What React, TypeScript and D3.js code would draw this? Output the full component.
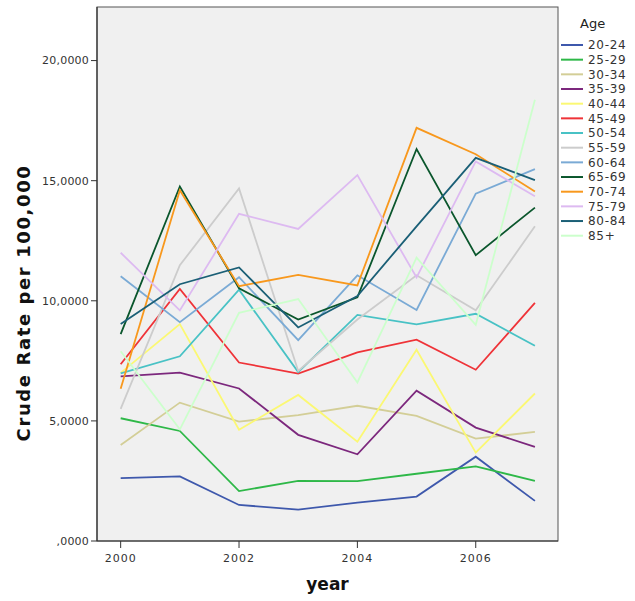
import React from "react";
import * as d3 from "d3";

const years = [2000, 2001, 2002, 2003, 2004, 2005, 2006, 2007];
const ageGroups = ["20-24", "25-29", "30-34", "35-39", "40-44", "45-49", "50-54", "55-59", "60-64", "65-69", "70-74", "75-79", "80-84", "85+"];
const colors = ["#3e58ac", "#2eb848", "#d3ce97", "#7c287d", "#fbf873", "#ef3338", "#48c2c5", "#cccccc", "#7aaad5", "#0a562c", "#f8981d", "#ddbaf1", "#1a5f76", "#ccffcc"];

const r20_24 = [2.62, 2.69, 1.5, 1.31, 1.6, 1.85, 3.51, 1.67];
const r25_29 = [5.11, 4.58, 2.08, 2.5, 2.49, 2.8, 3.11, 2.5];
const r30_34 = [4.0, 5.76, 4.97, 5.24, 5.63, 5.21, 4.26, 4.54];
const r35_39 = [6.85, 7.01, 6.35, 4.42, 3.61, 6.26, 4.72, 3.92];
const r40_44 = [7.0, 9.03, 4.63, 6.08, 4.13, 7.96, 3.68, 6.14];
const r45_49 = [7.36, 10.49, 7.43, 6.97, 7.85, 8.38, 7.13, 9.91];
const r50_54 = [6.98, 7.69, 10.46, 7.03, 9.41, 9.02, 9.46, 8.13];
const r55_59 = [5.5, 11.48, 14.68, 7.08, 9.22, 11.06, 9.6, 13.1];
const r60_64 = [11.02, 9.11, 10.98, 8.36, 11.06, 9.62, 14.46, 15.48];
const r65_69 = [8.61, 14.76, 10.52, 9.22, 10.14, 16.32, 11.9, 13.88];
const r70_74 = [6.34, 14.6, 10.61, 11.08, 10.64, 17.2, 16.1, 14.55];
const r75_79 = [12.0, 9.6, 13.62, 12.99, 15.23, 10.97, 15.8, 14.35];
const r80_84 = [9.03, 10.69, 11.39, 8.89, 10.2, 13.1, 15.95, 15.02];
const r85p = [7.9, 4.65, 9.5, 10.07, 6.6, 11.8, 9.0, 18.37];

const seriesValues = [r20_24, r25_29, r30_34, r35_39, r40_44, r45_49, r50_54, r55_59, r60_64, r65_69, r70_74, r75_79, r80_84, r85p];

const yTicks = [0, 5, 10, 15, 20];
const xTicks = [2000, 2002, 2004, 2006];

const fmtY = (v: number) => (v === 0 ? ",0000" : v.toFixed(4).replace(".", ","));

export default function App() {
  const W = 635, H = 601;
  const left = 97, right = 558, top = 7, bottom = 541;
  const x = d3.scaleLinear().domain([1999.6, 2007.39]).range([left, right]);
  const y = d3.scaleLinear().domain([0, 22.23]).range([bottom, top]);
  const line = d3.line<number>().x((_, i) => x(years[i])).y((d) => y(d));
  const font = "'DejaVu Sans', Verdana, sans-serif";

  return (
    <svg width={W} height={H} style={{ position: "absolute", left: 0, top: 0, background: "#fff" }}>
      <rect x={left} y={top} width={right - left} height={bottom - top} fill="#f0f0f0" stroke="#555" strokeWidth={1} />
      {seriesValues.map((vals, i) => (
        <path key={ageGroups[i]} d={line(vals) || ""} fill="none" stroke={colors[i]} strokeWidth={1.8} strokeLinejoin="miter" />
      ))}
      <line x1={left} x2={left} y1={top} y2={bottom} stroke="#333" strokeWidth={1.2} />
      <line x1={left} x2={right} y1={bottom} y2={bottom} stroke="#333" strokeWidth={1.2} />
      {yTicks.map((t) => (
        <g key={t}>
          <line x1={left - 6} x2={left} y1={y(t)} y2={y(t)} stroke="#333" strokeWidth={1} />
          <text x={left - 8} y={y(t)} dy="0.35em" textAnchor="end" fontFamily={font} fontSize={11} letterSpacing={0.2} fill="#333">
            {fmtY(t)}
          </text>
        </g>
      ))}
      {xTicks.map((t) => (
        <g key={t}>
          <line x1={x(t)} x2={x(t)} y1={bottom} y2={bottom + 7} stroke="#333" strokeWidth={1} />
          <text x={x(t)} y={bottom + 21} textAnchor="middle" fontFamily={font} fontSize={11} letterSpacing={1} fill="#333">
            {t}
          </text>
        </g>
      ))}
      <text x={(left + right) / 2} y={590} textAnchor="middle" fontFamily={font} fontSize={17} fontWeight="bold" fill="#111">
        year
      </text>
      <text transform={`translate(30,303) rotate(-90)`} textAnchor="middle" fontFamily={font} fontSize={18} fontWeight="bold" letterSpacing={1.6} fill="#111">
        Crude Rate per 100,000
      </text>
      <text x={580} y={28} fontFamily={font} fontSize={13} fill="#222">
        Age
      </text>
      {ageGroups.map((g, i) => {
        const yy = 45 + i * 14.67;
        return (
          <g key={g}>
            <line x1={561} x2={583} y1={yy} y2={yy} stroke={colors[i]} strokeWidth={2} />
            <text x={588} y={yy} dy="0.36em" fontFamily={font} fontSize={12} letterSpacing={0.7} fill="#333">
              {g}
            </text>
          </g>
        );
      })}
    </svg>
  );
}
